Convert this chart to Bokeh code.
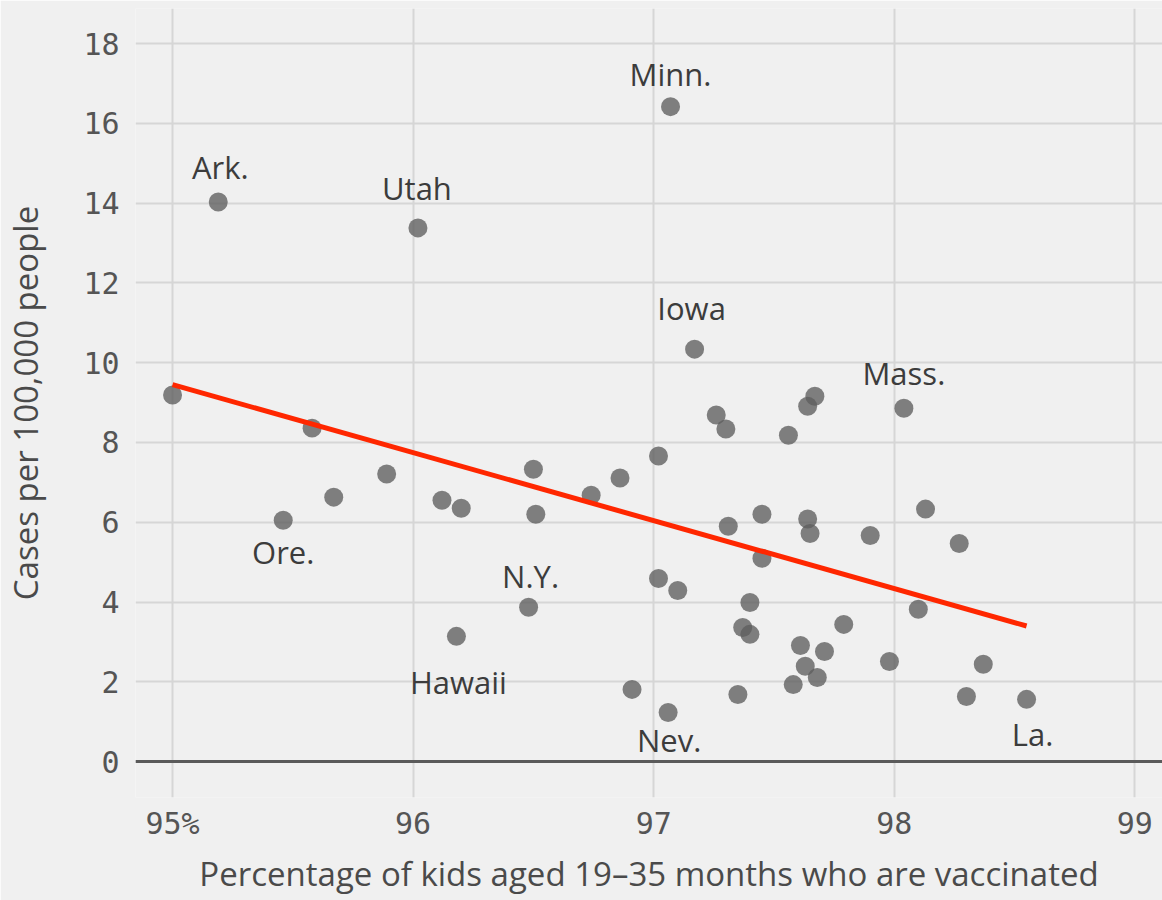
from bokeh.plotting import figure
from bokeh.models import ColumnDataSource, Span, Range1d
from bokeh.core.properties import value
from bokeh.embed import file_html
from bokeh.resources import INLINE

# ---- data ----
vaccinated = [95.00, 95.19, 95.46, 95.58, 95.67, 95.89, 96.02, 96.12, 96.20, 96.18,
              96.50, 96.51, 96.48, 96.74, 96.86, 97.02, 97.07, 97.17, 97.02, 97.10,
              96.91, 97.06, 97.26, 97.30, 97.31, 97.45, 97.45, 97.40, 97.37, 97.40,
              97.35, 97.56, 97.64, 97.67, 97.64, 97.65, 97.61, 97.63, 97.58, 97.68,
              97.71, 97.79, 97.90, 98.04, 97.98, 98.13, 98.10, 98.27, 98.30, 98.37,
              98.55]
cases = [9.19, 14.03, 6.05, 8.36, 6.63, 7.21, 13.38, 6.55, 6.35, 3.14,
         7.33, 6.20, 3.87, 6.68, 7.11, 7.66, 16.42, 10.34, 4.59, 4.29,
         1.81, 1.23, 8.69, 8.34, 5.90, 6.20, 5.10, 3.99, 3.36, 3.19,
         1.68, 8.18, 8.91, 9.16, 6.08, 5.72, 2.91, 2.39, 1.93, 2.11,
         2.76, 3.44, 5.67, 8.86, 2.51, 6.33, 3.82, 5.47, 1.63, 2.44,
         1.56]

label_states = ["Ark.", "Utah", "Minn.", "Iowa", "Mass.", "Ore.", "N.Y.", "Hawaii", "Nev.", "La."]
label_x = [95.19, 96.02, 97.07, 97.17, 98.04, 95.46, 96.48, 96.18, 97.06, 98.55]
label_y = [14.03, 13.38, 16.42, 10.34, 8.86, 6.05, 3.87, 3.14, 1.23, 1.56]
# pixel offsets of each label from its point (layout only); screen y grows downward
label_dx = [2, -1, 0, -3, 0, 0, 2, 2, 1, 6]
label_dy = [-35, -40, -33, -41, -35, 32, -31, 46, 27, 35]

trend_x = [95.0, 98.55]
trend_y = [9.45, 3.40]

x_ticks = [95, 96, 97, 98, 99]
y_ticks = [0, 2, 4, 6, 8, 10, 12, 14, 16, 18]

x_title = "Percentage of kids aged 19–35 months who are vaccinated"
y_title = "Cases per 100,000 people"

BG = "#f0f0f0"
LABEL_FONT = "Open Sans"

p = figure(width=1162, height=900, output_backend="svg", toolbar_location=None,
           x_range=Range1d(94.846, 99.115), y_range=Range1d(-0.90, 18.88),
           background_fill_color=BG, border_fill_color=BG,
           min_border_left=135, min_border_right=0, min_border_top=8, min_border_bottom=103)
p.outline_line_color = None

# grids
p.xgrid.ticker = x_ticks
p.ygrid.ticker = y_ticks
p.grid.grid_line_color = "#d6d6d6"
p.grid.grid_line_width = 2

# axes
for ax in (p.xaxis, p.yaxis):
    ax.axis_line_color = None
    ax.major_tick_line_color = None
    ax.minor_tick_line_color = None
    ax.major_label_text_font = "DejaVu Sans Mono"
    ax.major_label_text_font_size = "30px"
    ax.major_label_text_color = "#555555"
    ax.axis_label_text_font = LABEL_FONT
    ax.axis_label_text_font_size = "33px"
    ax.axis_label_text_font_style = "normal"
    ax.axis_label_text_color = "#4a4a4a"

p.xaxis.ticker = x_ticks
p.xaxis.major_label_overrides = {95: "95%"}
p.xaxis.major_label_standoff = 2
p.xaxis.axis_label = x_title
p.xaxis.axis_label_standoff = 7

p.yaxis.ticker = y_ticks
p.yaxis.major_label_standoff = 10
p.yaxis.axis_label = y_title
p.yaxis.axis_label_standoff = 32

# zero baseline
p.add_layout(Span(location=0, dimension="width", line_color="#5a5a5a", line_width=3))

# points
src = ColumnDataSource(dict(x=vaccinated, y=cases))
p.scatter("x", "y", source=src, size=19, fill_color="#5e5e5e", fill_alpha=0.78,
          line_color=None)

# trend line
p.line(trend_x, trend_y, line_color="#ff2700", line_width=5)

# labels
lsrc = ColumnDataSource(dict(x=label_x, y=label_y, t=label_states, dx=label_dx, dy=label_dy))
p.text("x", "y", text="t", source=lsrc, x_offset="dx", y_offset="dy",
       text_font=value(LABEL_FONT), text_font_size="31px", text_color="#3c3c3c",
       text_align="center", text_baseline="middle")

open("out.html", "w").write(file_html(p, INLINE))
